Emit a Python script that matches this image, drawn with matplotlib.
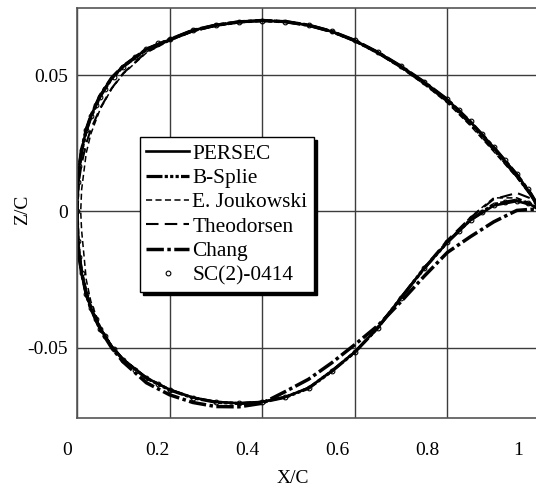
import matplotlib.pyplot as plt
from matplotlib.transforms import ScaledTranslation

plt.rcParams['font.family'] = ['Liberation Serif', 'DejaVu Serif']
plt.rcParams['font.size'] = 14

# chord stations shared by most of the curves
xs = [0, .002, .005, .01, .02, .03, .05, .075, .1, .15, .2, .25, .3, .35, .4,
      .45, .5, .55, .6, .65, .7, .75, .8, .85, .9, .95, .98, 1.0]

persec_up = [0, .0105, .0165, .0225, .0300, .0350, .0425, .0490, .0533, .0595, .0630,
             .0664, .0683, .0695, .0700, .0696, .0683, .0660, .0627, .0583, .0532,
             .0474, .0410, .0328, .0235, .0135, .0065, .0008]
persec_lo = [0, -.0105, -.0165, -.0225, -.0302, -.0355, -.0430, -.0495, -.0543, -.0610,
             -.0653, -.0682, -.0698, -.0703, -.0698, -.0680, -.0647, -.0585, -.0515,
             -.0425, -.0315, -.0208, -.0113, -.0032, .0022, .0038, .0025, .0005]

bspl_up = [0, .0103, .0163, .0222, .0296, .0346, .0422, .0488, .0532, .0594, .0630,
           .0663, .0683, .0695, .0700, .0696, .0683, .0660, .0626, .0582, .0530,
           .0470, .0405, .0322, .0228, .0130, .0062, .0008]
bspl_lo = [0, -.0105, -.0165, -.0225, -.0302, -.0355, -.0430, -.0496, -.0544, -.0611,
           -.0654, -.0683, -.0699, -.0704, -.0699, -.0681, -.0648, -.0586, -.0516,
           -.0426, -.0316, -.0208, -.0112, -.0030, .0026, .0042, .0027, .0005]

theo_up = [0, .0070, .0120, .0175, .0250, .0302, .0378, .0452, .0507, .0585, .0627,
           .0660, .0681, .0694, .0700, .0696, .0683, .0660, .0627, .0583, .0532,
           .0474, .0410, .0328, .0235, .0135, .0065, .0008]
theo_lo = [0, -.0098, -.0158, -.0218, -.0296, -.0350, -.0427, -.0493, -.0542, -.0610,
           -.0653, -.0682, -.0698, -.0703, -.0698, -.0680, -.0647, -.0585, -.0515,
           -.0425, -.0315, -.0205, -.0105, -.0022, .0045, .0068, .0048, .0010]

chang_up = [0, .0105, .0165, .0225, .0300, .0350, .0425, .0490, .0533, .0595, .0630,
            .0664, .0683, .0695, .0700, .0696, .0683, .0660, .0627, .0583, .0532,
            .0474, .0410, .0328, .0235, .0135, .0065, .0008]
chang_lo = [0, -.0105, -.0165, -.0225, -.0302, -.0355, -.0432, -.0500, -.0552, -.0628,
            -.0672, -.0700, -.0715, -.0716, -.0703, -.0660, -.0615, -.0555, -.0488,
            -.0418, -.0330, -.0237, -.0150, -.0092, -.0038, .0004, .0008, .0005]

# E. Joukowski leading edge sits slightly aft
xs_jou = [.008, .01, .02, .03, .05, .075, .1, .15, .2, .25, .3, .35, .4, .45, .5,
          .55, .6, .65, .7, .75, .8, .85, .9, .95, .98, 1.0]
jou_up = [0, .0080, .0215, .0285, .0375, .0450, .0505, .0582, .0626, .0660, .0681,
          .0694, .0699, .0695, .0682, .0658, .0624, .0579, .0526, .0466, .0398,
          .0314, .0220, .0124, .0060, .0008]
jou_lo = [0, -.0070, -.0250, -.0330, -.0420, -.0492, -.0541, -.0610, -.0653, -.0682,
          -.0698, -.0703, -.0698, -.0680, -.0648, -.0588, -.0518, -.0430, -.0320,
          -.0212, -.0112, -.0020, .0050, .0050, .0030, .0006]

# SC(2)-0414 reference points
xs_sc = [0, .002, .005, .01, .02, .03, .04, .05, .06, .08, .1, .125, .15, .175, .2,
         .25, .3, .35, .4, .45, .5, .55, .6, .65, .7, .75, .8, .825, .85, .875, .9,
         .925, .95, .975, 1.0]
sc_up = [0, .0108, .0167, .0225, .0299, .0350, .0389, .0421, .0448, .0493, .0529,
         .0566, .0594, .0617, .0632, .0664, .0683, .0695, .0700, .0696, .0683, .0660,
         .0627, .0584, .0533, .0476, .0412, .0373, .0331, .0285, .0237, .0188, .0137,
         .0083, .0010]
sc_lo = [0, -.0108, -.0167, -.0225, -.0301, -.0354, -.0395, -.0429, -.0458, -.0505,
         -.0543, -.0580, -.0610, -.0634, -.0653, -.0682, -.0698, -.0703, -.0698,
         -.0680, -.0647, -.0585, -.0515, -.0426, -.0316, -.0208, -.0113, -.0070,
         -.0032, -.0001, .0022, .0034, .0038, .0030, .0005]

x_ticks = [0, 0.2, 0.4, 0.6, 0.8, 1.0]
x_labels = ['0', '0.2', '0.4', '0.6', '0.8', '1']
y_ticks = [-0.05, 0, 0.05]
y_labels = ['-0.05', '0', '0.05']


def contour(x, up, lo):
    # trailing edge -> upper -> leading edge -> lower -> trailing edge
    return list(x[::-1]) + list(x[1:]), list(up[::-1]) + list(lo[1:])


fig = plt.figure(figsize=(5.36, 4.95), dpi=100)
ax = fig.add_axes([77 / 536, 77 / 495, 463 / 536, 410 / 495])

cx, cy = contour(xs, persec_up, persec_lo)
ax.plot(cx, cy, color='k', lw=1.9, ls='-', label='PERSEC')
cx, cy = contour(xs, bspl_up, bspl_lo)
ax.plot(cx, cy, color='k', lw=2.3, ls=(0, (5, 0.7, 1, 0.7, 1, 0.7, 1, 0.7)), label='B-Splie')
cx, cy = contour(xs_jou, jou_up, jou_lo)
ax.plot(cx, cy, color='k', lw=1.1, ls=(0, (4, 2.2)), label='E. Joukowski')
cx, cy = contour(xs, theo_up, theo_lo)
ax.plot(cx, cy, color='k', lw=1.5, ls=(0, (6, 3)), label='Theodorsen')
cx, cy = contour(xs, chang_up, chang_lo)
ax.plot(cx, cy, color='k', lw=2.5, ls=(0, (5, 1, 1, 1)), label='Chang')
cx, cy = contour(xs_sc, sc_up, sc_lo)
ax.plot(cx, cy, ls='none', marker='o', ms=3.4, mfc='none', mec='k', mew=0.8,
        label='SC(2)-0414')

ax.set_xlim(0, 1)
ax.set_ylim(-0.0757, 0.0746)
ax.set_xticks(x_ticks)
ax.set_xticklabels(x_labels)
ax.set_yticks(y_ticks)
ax.set_yticklabels(y_labels)
ax.tick_params(length=0)
ax.tick_params(axis='x', pad=17)
ax.tick_params(axis='y', pad=6.5)
ax.grid(True, color='#3c3c3c', lw=1)
ax.set_axisbelow(True)
for s in ax.spines.values():
    s.set_color('#555555')
    s.set_linewidth(1.2)

# tick labels in the original drift left of their grid lines
for val, lab in zip(x_ticks, ax.get_xticklabels()):
    dx = -(10 + 12 * val) / 100
    lab.set_transform(lab.get_transform() + ScaledTranslation(dx, 0, fig.dpi_scale_trans))

ax.set_xlabel('X/C')
ax.xaxis.set_label_coords(0.467, -0.127)
ax.set_ylabel('Z/C')
ax.yaxis.set_label_coords(-0.099, 0.507)

leg = ax.legend(loc='upper left', bbox_to_anchor=(0.136, 0.685), borderaxespad=0,
                fancybox=False, shadow={'color': 'k', 'alpha': 1}, edgecolor='k',
                framealpha=1, handlelength=2.0, handletextpad=0.15, fontsize=15.4,
                labelspacing=0.21, borderpad=0.3, numpoints=1)
leg.get_frame().set_linewidth(1.0)

fig.savefig('out.png', dpi=100)
